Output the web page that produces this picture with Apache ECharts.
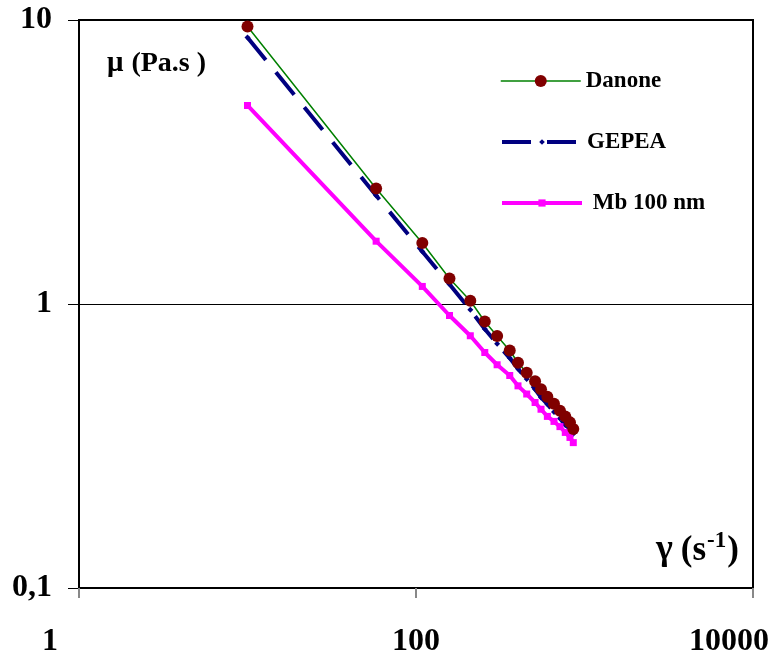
<!DOCTYPE html>
<html>
<head>
<meta charset="utf-8">
<script src="https://cdn.jsdelivr.net/npm/echarts@6/dist/echarts.min.js"></script>
<style>html,body{margin:0;padding:0;background:#fff}#c{width:774px;height:655px}</style>
</head>
<body>
<div id="c"></div>
<script>
// shear rate (s^-1)
var shearRate = [10, 58, 109, 158, 210, 256, 303, 360, 403, 454, 509, 552, 602, 659, 715, 769, 820, 858];
// viscosity (Pa.s)
var danone = [9.49, 2.55, 1.64, 1.23, 1.027, 0.868, 0.771, 0.686, 0.621, 0.573, 0.535, 0.501, 0.471, 0.445, 0.421, 0.402, 0.383, 0.363];
var gepea  = [8.68, 2.41, 1.53, 1.174, 0.954, 0.816, 0.724, 0.645, 0.591, 0.544, 0.501, 0.469, 0.444, 0.417, 0.395, 0.375, 0.363, 0.349];
var mb100  = [5.0, 1.664, 1.153, 0.911, 0.773, 0.675, 0.611, 0.560, 0.515, 0.482, 0.450, 0.426, 0.402, 0.386, 0.370, 0.353, 0.339, 0.325];
var seriesNames = ['Danone', 'GEPEA', 'Mb 100 nm'];
var xTicks = [1, 100, 10000];
var yTicks = [0.1, 1, 10];

function pairs(xs, ys) { return xs.map(function (x, i) { return [x, ys[i]]; }); }

var FONT = 'Liberation Serif';
var legendText = {fontFamily: FONT, fontWeight: 'bold', fontSize: 23, color: '#000'};
function legendFor(name, centerY, h, lineStyle) {
  return {
    orient: 'vertical', left: 500, top: centerY - 12, padding: 0,
    itemWidth: 80, itemHeight: h, itemGap: 0,
    data: [name],
    lineStyle: lineStyle,
    textStyle: Object.assign({lineHeight: 24}, legendText),
    formatter: function (n) { return n === 'Mb 100 nm' ? ' ' + n : n; }
  };
}

var chart = echarts.init(document.getElementById('c'), null, {renderer: 'canvas'});
chart.setOption({
  animation: false,
  backgroundColor: '#fff',
  grid: {left: 79, right: 21, top: 20, bottom: 67, containLabel: false, outerBoundsMode: 'none',
         show: true, borderColor: '#000', borderWidth: 2, backgroundColor: 'transparent'},
  legend: [
    legendFor(seriesNames[0], 81, 15, {width: 1.5, color: '#008000'}),
    legendFor(seriesNames[1], 142, 7, {width: 4, color: '#000080', type: [29, 16]}),
    legendFor(seriesNames[2], 203, 9, {width: 4, color: '#FF00FF'})
  ],
  xAxis: {
    type: 'log', logBase: 10, min: 1, max: 10000, interval: 2,
    axisLine: {show: true, onZero: false, lineStyle: {color: '#000', width: 2}},
    axisTick: {show: true, inside: false, length: 10, lineStyle: {color: '#888', width: 2}},
    splitLine: {show: false},
    axisLabel: {
      margin: 38,
      fontFamily: FONT, fontWeight: 'bold', fontSize: 32, color: '#000',
      formatter: function (v) {
        if (Math.abs(v - 1) < 1e-6) return '{l|1}';
        if (Math.abs(v - 10000) < 1e-3) return '{r|10000}';
        return String(Math.round(v));
      },
      rich: {
        l: {fontFamily: FONT, fontWeight: 'bold', fontSize: 32, color: '#000', padding: [0, 58, 0, 0]},
        r: {fontFamily: FONT, fontWeight: 'bold', fontSize: 32, color: '#000', padding: [0, 48, 0, 0]}
      }
    }
  },
  yAxis: {
    type: 'log', logBase: 10, min: 0.1, max: 10,
    axisLine: {show: true, lineStyle: {color: '#000', width: 2}},
    axisTick: {show: true, inside: false, length: 11, lineStyle: {color: '#000', width: 1}},
    splitLine: {show: true, lineStyle: {color: '#000', width: 1}},
    axisLabel: {
      margin: 27,
      fontFamily: FONT, fontWeight: 'bold', fontSize: 32, color: '#000',
      formatter: function (v) { return String(+v.toPrecision(3)).replace('.', ','); }
    }
  },
  graphic: [
    {type: 'text', left: 107, top: 49, style: {
      text: '{m|μ}{t|(Pa.s )}',
      rich: {
        m: {fontFamily: FONT, fontWeight: 'bold', fontSize: 29, fill: '#000', verticalAlign: 'bottom', padding: [0, 8, 0, 0]},
        t: {fontFamily: FONT, fontWeight: 'bold', fontSize: 28, fill: '#000', verticalAlign: 'bottom'}
      }
    }},
    {type: 'text', left: 656, top: 530, style: {
      text: '{g|γ}{t|(s}{s|-1}{t|)}',
      rich: {
        g: {fontFamily: FONT, fontWeight: 'bold', fontSize: 36, fill: '#000', verticalAlign: 'bottom', padding: [0, 8, 0, 0]},
        t: {fontFamily: FONT, fontWeight: 'bold', fontSize: 35, fill: '#000', verticalAlign: 'bottom'},
        s: {fontFamily: FONT, fontWeight: 'bold', fontSize: 23, fill: '#000', verticalAlign: 'top', padding: [0, 1, 15, 1]}
      }
    }}
  ],
  series: [
    {
      name: 'Danone', type: 'line', data: pairs(shearRate, danone),
      symbol: 'circle', symbolSize: 12, showAllSymbol: true,
      itemStyle: {color: '#800000'},
      lineStyle: {color: '#008000', width: 1.5},
      z: 3
    },
    {
      name: 'GEPEA', type: 'line', data: pairs(shearRate, gepea),
      symbol: 'diamond', symbolSize: 6, showAllSymbol: true,
      itemStyle: {color: '#000080'},
      lineStyle: {color: '#000080', width: 4, type: [29, 16]},
      z: 2
    },
    {
      name: 'Mb 100 nm', type: 'line', data: pairs(shearRate, mb100),
      symbol: 'rect', symbolSize: 7, showAllSymbol: true,
      itemStyle: {color: '#FF00FF'},
      lineStyle: {color: '#FF00FF', width: 4},
      z: 2
    }
  ]
});
</script>
</body>
</html>
